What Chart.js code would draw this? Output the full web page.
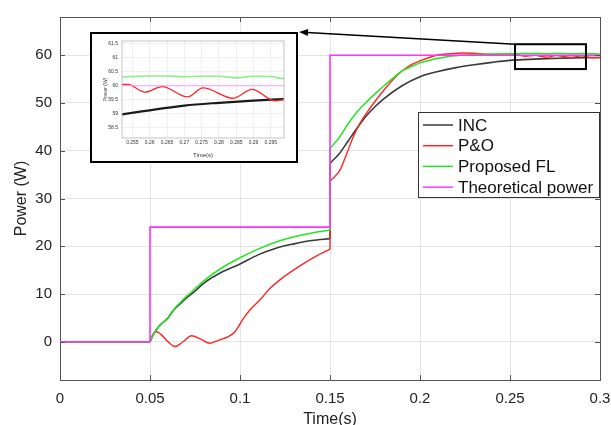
<!DOCTYPE html>
<html>
<head>
<meta charset="utf-8">
<script src="https://cdn.jsdelivr.net/npm/chart.js@4.4.1/dist/chart.umd.min.js"></script>
<style>
  body { margin: 0; background: #fff; }
  #wrap { position: relative; width: 611px; height: 425px; }
  #insetBox { position: absolute; left: 90px; top: 32px; width: 208px; height: 131px;
              border: 2px solid #000; box-sizing: border-box; background: #fff; }
  #insetBox canvas { display: block; }
</style>
</head>
<body>
<div id="wrap">
  <canvas id="myChart" width="611" height="425"></canvas>
  <div id="insetBox"><canvas id="insetChart" width="204" height="127"></canvas></div>
</div>
<script>
// ---- data ----
const xTicks = [0, 0.05, 0.1, 0.15, 0.2, 0.25, 0.3];
const yTicks = [0, 10, 20, 30, 40, 50, 60];
const insetXTicks = [0.255, 0.26, 0.265, 0.27, 0.275, 0.28, 0.285, 0.29, 0.295];
const insetYTicks = [58.5, 59, 59.5, 60, 60.5, 61, 61.5];

const seriesNames = ['INC', 'P&O', 'Proposed FL', 'Theoretical power'];

// a repeated time value marks a step (the curve breaks there)
const tTheory = [0, 0.05, 0.05, 0.15, 0.15, 0.3];
const pTheory = [0, 0, 24, 24, 60, 60];

const tInc = [0, 0.05, 0.05, 0.052, 0.0556, 0.06, 0.063, 0.066, 0.07, 0.075, 0.08, 0.09, 0.1, 0.11, 0.12, 0.13, 0.14, 0.15,
  0.15, 0.155, 0.16, 0.165, 0.17, 0.175, 0.18, 0.19, 0.2, 0.21, 0.22, 0.23, 0.24, 0.25, 0.26, 0.27, 0.28, 0.29, 0.3];
const pInc = [0, 0, 0, 1.6, 3.5, 5, 6.6, 7.7, 9.1, 10.6, 12.3, 14.6, 16.3, 18.2, 19.6, 20.5, 21.2, 21.6,
  37.4, 39.3, 42, 44.7, 47.2, 49.2, 50.9, 53.6, 55.5, 56.6, 57.4, 58, 58.5, 58.92, 59.12, 59.29, 59.39, 59.47, 59.53];

const tPO = [0, 0.05, 0.05, 0.0515, 0.0537, 0.0565, 0.06, 0.0639, 0.068, 0.0731, 0.078, 0.0833, 0.088, 0.0935, 0.0972,
  0.1019, 0.1056, 0.111, 0.1167, 0.124, 0.1333, 0.1426, 0.15,
  0.15, 0.1556, 0.1595, 0.163, 0.1667, 0.1722, 0.177, 0.1815, 0.186, 0.1907, 0.195, 0.2, 0.2093, 0.2167, 0.224, 0.232,
  0.24, 0.246, 0.2537, 0.2586, 0.2636, 0.2709, 0.2754, 0.2841, 0.2896, 0.2961, 0.3];
const pPO = [0, 0, 0, 1.5, 2.1, 1.4, 0, -1.0, -0.1, 1.25, 0.6, -0.3, 0.3, 1.1, 2.1,
  4.9, 6.7, 8.75, 11.2, 13.5, 15.9, 18, 19.4,
  33.6, 36, 39.6, 43, 45.8, 48.9, 51.3, 53.4, 55.3, 56.9, 58, 58.8, 60, 60.3, 60.45, 60.35,
  60.15, 60.02, 60.05, 59.77, 59.97, 59.6, 59.92, 59.55, 59.87, 59.46, 59.53];

const tFL = [0, 0.05, 0.05, 0.052, 0.0556, 0.06, 0.063, 0.066, 0.07, 0.075, 0.08, 0.09, 0.1, 0.11, 0.12, 0.13, 0.14, 0.15,
  0.15, 0.155, 0.16, 0.165, 0.17, 0.175, 0.18, 0.185, 0.19, 0.195, 0.2, 0.205, 0.21, 0.215, 0.22, 0.225, 0.23, 0.24, 0.25,
  0.255, 0.26, 0.265, 0.27, 0.275, 0.28, 0.285, 0.29, 0.295, 0.2988, 0.3];
const pFL = [0, 0, 0, 1.6, 3.5, 5, 6.7, 7.9, 9.4, 11.1, 12.8, 15.5, 17.6, 19.4, 20.9, 22, 22.8, 23.4,
  40.5, 42.7, 45.6, 48.1, 50.1, 51.9, 53.6, 55.2, 56.7, 57.6, 58.4, 58.9, 59.35, 59.7, 59.9, 60.05, 60.15, 60.25, 60.3,
  60.33, 60.35, 60.35, 60.32, 60.34, 60.34, 60.28, 60.34, 60.33, 60.25, 60.26];

// zoom window shown in the inset
const zoomX = [0.252, 0.2988];
const zoomY = [58.13, 61.6];
// box drawn on the main chart around the zoomed part
const boxX = [0.2528, 0.2922];
const boxY = [57.1, 62.3];

const FONT = 'Liberation Sans, Arial, Helvetica, sans-serif';

// smooth pieces separated by gaps, plus the vertical step segments
function splitAtSteps(t, p) {
  const curve = [], steps = [];
  t.forEach((x, i) => {
    if (i > 0 && x === t[i - 1]) {
      curve.push({ x: x, y: null });
      if (steps.length) steps.push({ x: x, y: null });
      steps.push({ x: x, y: p[i - 1] }, { x: x, y: p[i] });
    }
    curve.push({ x: x, y: p[i] });
  });
  return { curve, steps };
}

function makeDatasets(inset) {
  const style = [
    { color: inset ? '#1a1a1a' : '#3a3a3a', width: inset ? 2.2 : 1.6, order: 3 },
    { color: '#ff2424', width: inset ? 1.3 : 1.4, order: 2 },
    { color: inset ? '#8ced8c' : '#22e622', width: inset ? 1.6 : 1.5, order: 1 }
  ];
  const src = [[tInc, pInc], [tPO, pPO], [tFL, pFL]];
  const sets = [];
  src.forEach((s, i) => {
    const parts = splitAtSteps(s[0], s[1]);
    sets.push({ label: seriesNames[i], data: parts.curve, borderColor: style[i].color,
      borderWidth: style[i].width, cubicInterpolationMode: 'monotone', order: style[i].order });
    sets.push({ label: '', data: parts.steps, borderColor: style[i].color,
      borderWidth: style[i].width, tension: 0, order: style[i].order });
  });
  sets.push({ label: seriesNames[3], data: tTheory.map((x, i) => ({ x: x, y: pTheory[i] })),
    borderColor: inset ? '#ff9cff' : '#ff33ff', borderWidth: inset ? 1.1 : 1.6, tension: 0, order: 0 });
  return sets;
}

// ---- main chart extras: box, inward ticks, zoom rectangle, arrow, legend ----
const mainExtras = {
  id: 'mainExtras',
  afterDraw(chart) {
    const ctx = chart.ctx;
    const a = chart.chartArea;
    const xs = chart.scales.x, ys = chart.scales.y;
    ctx.save();
    ctx.strokeStyle = '#555';
    ctx.lineWidth = 1;
    ctx.beginPath();
    ctx.moveTo(a.left, a.top + 0.5); ctx.lineTo(a.right + 0.5, a.top + 0.5); ctx.lineTo(a.right + 0.5, a.bottom);
    // inward tick marks
    xTicks.forEach(v => {
      const px = Math.round(xs.getPixelForValue(v)) + 0.5;
      ctx.moveTo(px, a.bottom); ctx.lineTo(px, a.bottom - 5);
      ctx.moveTo(px, a.top); ctx.lineTo(px, a.top + 5);
    });
    yTicks.forEach(v => {
      const py = Math.round(ys.getPixelForValue(v)) + 0.5;
      ctx.moveTo(a.left, py); ctx.lineTo(a.left + 5, py);
      ctx.moveTo(a.right, py); ctx.lineTo(a.right - 5, py);
    });
    ctx.stroke();

    // zoom rectangle
    const rx0 = xs.getPixelForValue(boxX[0]), rx1 = xs.getPixelForValue(boxX[1]);
    const ry0 = ys.getPixelForValue(boxY[1]), ry1 = ys.getPixelForValue(boxY[0]);
    ctx.strokeStyle = '#000';
    ctx.lineWidth = 2;
    ctx.strokeRect(rx0, ry0, rx1 - rx0, ry1 - ry0);

    // arrow to the inset (top right corner of inset box)
    const box = document.getElementById('insetBox');
    const tipX = box.offsetLeft + box.offsetWidth + 1, tipY = box.offsetTop;
    const sx = rx0, sy = ry0;
    const ang = Math.atan2(tipY - sy, tipX - sx);
    ctx.lineWidth = 1.5;
    ctx.beginPath();
    ctx.moveTo(sx, sy);
    ctx.lineTo(tipX - 8 * Math.cos(ang), tipY - 8 * Math.sin(ang));
    ctx.stroke();
    ctx.fillStyle = '#000';
    ctx.beginPath();
    ctx.moveTo(tipX, tipY);
    ctx.lineTo(tipX - 9 * Math.cos(ang) + 3.5 * Math.sin(ang), tipY - 9 * Math.sin(ang) - 3.5 * Math.cos(ang));
    ctx.lineTo(tipX - 9 * Math.cos(ang) - 3.5 * Math.sin(ang), tipY - 9 * Math.sin(ang) + 3.5 * Math.cos(ang));
    ctx.closePath();
    ctx.fill();

    // legend
    const lx = 418, ly = 112, lw = 181, lh = 85;
    ctx.fillStyle = '#fff';
    ctx.fillRect(lx, ly, lw, lh);
    ctx.strokeStyle = '#333';
    ctx.lineWidth = 1;
    ctx.strokeRect(lx + 0.5, ly + 0.5, lw, lh);
    ctx.font = '17px ' + FONT;
    ctx.textBaseline = 'middle';
    ctx.textAlign = 'left';
    chart.data.datasets.filter(d => d.label).forEach((d, i) => {
      const yy = ly + 13 + i * 20.7;
      ctx.strokeStyle = d.borderColor;
      ctx.lineWidth = 1.5;
      ctx.beginPath();
      ctx.moveTo(lx + 5, yy); ctx.lineTo(lx + 35, yy);
      ctx.stroke();
      ctx.fillStyle = '#111';
      ctx.fillText(d.label, lx + 40, yy + 1);
    });
    ctx.restore();
  }
};

const insetExtras = {
  id: 'insetExtras',
  afterDraw(chart) {
    const ctx = chart.ctx, a = chart.chartArea;
    ctx.save();
    ctx.strokeStyle = '#b5b5b5';
    ctx.lineWidth = 0.8;
    ctx.strokeRect(a.left, a.top, a.right - a.left, a.bottom - a.top);
    ctx.restore();
  }
};

const noSidePad = s => { s.paddingLeft = 0; s.paddingRight = 0; };

const mainConfig = {
  type: 'line',
  data: { datasets: makeDatasets(false) },
  options: {
    responsive: false,
    animation: false,
    layout: { padding: { top: 16, right: 11, left: 0, bottom: 0 } },
    elements: { point: { radius: 0 } },
    plugins: { legend: { display: false }, tooltip: { enabled: false } },
    scales: {
      x: {
        type: 'linear', min: 0, max: 0.3,
        afterBuildTicks: s => { s.ticks = xTicks.map(v => ({ value: v })); },
        afterFit: s => { s.height = 45; noSidePad(s); },
        grid: { color: '#e4e4e4', drawTicks: false },
        border: { color: '#555' },
        ticks: { padding: 10, color: '#222', autoSkip: false, maxRotation: 0,
                 font: { size: 15, family: FONT }, callback: v => String(v) },
        title: { display: true, text: 'Time(s)', color: '#222', font: { size: 16, family: FONT },
                 padding: { top: 0, bottom: -4 } }
      },
      y: {
        type: 'linear', min: -8, max: 68,
        afterBuildTicks: s => { s.ticks = yTicks.map(v => ({ value: v })); },
        afterFit: s => { s.width = 60; },
        grid: { color: '#e4e4e4', drawTicks: false },
        border: { color: '#555' },
        ticks: { padding: 8, color: '#222', autoSkip: false, font: { size: 15, family: FONT } },
        title: { display: true, text: 'Power (W)', color: '#222', font: { size: 16, family: FONT },
                 padding: { top: 12, bottom: 0 } }
      }
    }
  },
  plugins: [mainExtras]
};

const insetConfig = {
  type: 'line',
  data: { datasets: makeDatasets(true) },
  options: {
    responsive: false,
    animation: false,
    layout: { padding: { top: 5, right: 12, left: 0, bottom: 0 } },
    elements: { point: { radius: 0 } },
    plugins: { legend: { display: false }, tooltip: { enabled: false } },
    scales: {
      x: {
        type: 'linear', min: zoomX[0], max: zoomX[1],
        afterBuildTicks: s => { s.ticks = insetXTicks.map(v => ({ value: v })); },
        afterFit: s => { s.height = 23; noSidePad(s); },
        grid: { color: '#efefef', drawTicks: false },
        border: { display: false },
        ticks: { padding: 2, color: '#333', autoSkip: false, maxRotation: 0,
                 font: { size: 5, family: FONT }, callback: v => String(v) },
        title: { display: true, text: 'Time(s)', color: '#333', font: { size: 6, family: FONT },
                 padding: { top: 0, bottom: 2 } }
      },
      y: {
        type: 'linear', min: zoomY[0], max: zoomY[1],
        afterBuildTicks: s => { s.ticks = insetYTicks.map(v => ({ value: v })); },
        afterFit: s => { s.width = 30; },
        grid: { color: '#efefef', drawTicks: false },
        border: { display: false },
        ticks: { padding: 4, color: '#333', autoSkip: false, font: { size: 5, family: FONT },
                 callback: v => String(v) },
        title: { display: true, text: 'Power (W)', color: '#333', font: { size: 5, family: FONT },
                 padding: { top: 11, bottom: 0 } }
      }
    }
  },
  plugins: [insetExtras]
};

const insetChart = new Chart(document.getElementById('insetChart'), insetConfig);
const myChart = new Chart(document.getElementById('myChart'), mainConfig);
</script>
</body>
</html>
